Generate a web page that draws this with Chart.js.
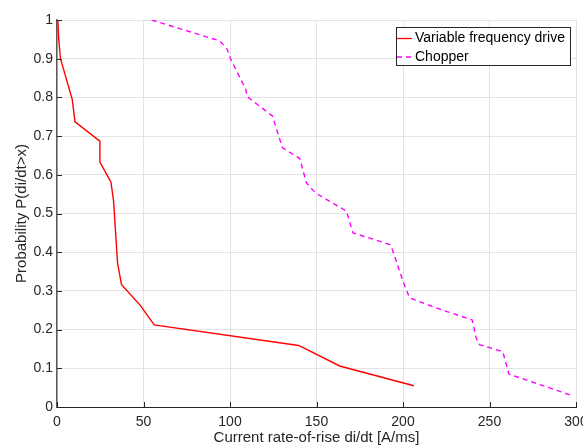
<!DOCTYPE html>
<html>
<head>
<meta charset="utf-8">
<script src="https://cdn.jsdelivr.net/npm/chart.js@4.4.1/dist/chart.umd.min.js"></script>
<style>
  html, body { margin: 0; padding: 0; background: #fff; }
  #wrap { width: 583px; height: 446px; position: relative; }
</style>
</head>
<body>
<div id="wrap"><canvas id="chart"></canvas></div>
<script>
/* datos: di/dt [A/ms] y probabilidad */
const vfdX = [0.5, 1, 2, 8.8, 10.4, 24.8, 24.8, 31.2, 32.7, 35, 37.3, 47.9, 56.2, 139.7, 163.4, 206.3];
const vfdY = [1, 0.95, 0.9, 0.795, 0.737, 0.687, 0.633, 0.581, 0.532, 0.372, 0.316, 0.264, 0.212, 0.159, 0.106, 0.055];

const chopX = [54.7, 94.1, 98.3, 100.3, 109.1, 109.9, 124.5, 130.3, 140.3, 144.2, 149.5, 167.3, 171.1, 192.3, 193.8, 200, 203.8, 219.2, 240, 242.3, 244.2, 257.7, 261.2, 298.1];
const chopY = [1, 0.946, 0.925, 0.9, 0.821, 0.802, 0.752, 0.67, 0.642, 0.579, 0.553, 0.506, 0.45, 0.42, 0.407, 0.325, 0.282, 0.256, 0.225, 0.178, 0.161, 0.143, 0.085, 0.029];

const seriesNames = ["Variable frequency drive", "Chopper"];
const xTitle = "Current rate-of-rise di/dt [A/ms]";
const yTitle = "Probability P(di/dt>x)";

const toPoints = (xs, ys) => xs.map((x, i) => ({ x: x, y: ys[i] }));

const FONT = "'Liberation Sans', Arial, sans-serif";
const TXT = "#262626";

/* marcas de tick hacia dentro, estilo MATLAB */
const innerTicks = {
    id: "innerTicks",
    afterDatasetsDraw(chart) {
        const { ctx, chartArea: a, scales } = chart;
        ctx.save();
        ctx.strokeStyle = "#262626";
        ctx.lineWidth = 1;
        scales.x.ticks.forEach(t => {
            const px = Math.round(scales.x.getPixelForValue(t.value)) + 0.5;
            ctx.beginPath();
            ctx.moveTo(px, a.bottom);
            ctx.lineTo(px, a.bottom - 5);
            ctx.stroke();
        });
        scales.y.ticks.forEach(t => {
            const py = Math.round(scales.y.getPixelForValue(t.value)) + 0.5;
            ctx.beginPath();
            ctx.moveTo(a.left, py);
            ctx.lineTo(a.left + 5, py);
            ctx.stroke();
        });
        ctx.restore();
    }
};

/* leyenda dentro del área de trazado, arriba a la derecha */
const legendBox = {
    id: "legendBox",
    afterDraw(chart) {
        const ctx = chart.ctx;
        const x0 = 396, y0 = 27, w = 174, h = 38;
        ctx.save();
        ctx.fillStyle = "#fff";
        ctx.fillRect(x0, y0, w, h);
        ctx.strokeStyle = "#262626";
        ctx.lineWidth = 1;
        ctx.strokeRect(x0 + 0.5, y0 + 0.5, w, h);
        ctx.font = "14px " + FONT;
        ctx.textBaseline = "middle";
        chart.data.datasets.forEach((ds, i) => {
            const yy = y0 + 11.5 + i * 18.5;
            ctx.strokeStyle = ds.borderColor;
            ctx.lineWidth = 1.3;
            ctx.setLineDash(ds.borderDash || []);
            ctx.beginPath();
            ctx.moveTo(x0 + 1, yy);
            ctx.lineTo(x0 + 16, yy);
            ctx.stroke();
            ctx.setLineDash([]);
            ctx.fillStyle = "#000";
            ctx.fillText(ds.label, x0 + 19, yy);
        });
        ctx.restore();
    }
};

new Chart(document.getElementById("chart"), {
    type: "scatter",
    data: {
        datasets: [{
            label: seriesNames[0],
            data: toPoints(vfdX, vfdY),
            showLine: true,
            borderColor: "#ff0000",
            borderWidth: 1.4,
            pointRadius: 0,
            tension: 0
        }, {
            label: seriesNames[1],
            data: toPoints(chopX, chopY),
            showLine: true,
            borderColor: "#ff00ff",
            borderWidth: 1.4,
            borderDash: [5, 4],
            pointRadius: 0,
            tension: 0
        }]
    },
    options: {
        responsive: true,
        maintainAspectRatio: false,
        animation: false,
        devicePixelRatio: 1,
        layout: { padding: { left: 0, right: 7, top: 20, bottom: 0 } },
        plugins: {
            legend: { display: false },
            tooltip: { enabled: false }
        },
        scales: {
            x: {
                type: "linear",
                min: 0, max: 300,
                ticks: { stepSize: 50, color: TXT, font: { family: FONT, size: 14 }, padding: 7, maxRotation: 0 },
                grid: { color: "#e3e3e3", drawTicks: false },
                border: { color: "#262626", width: 1 },
                title: { display: true, text: xTitle, color: TXT, font: { family: FONT, size: 15 }, padding: { top: 0, bottom: -1 } },
                afterFit: (s) => { s.height = 39; s.paddingLeft = 0; s.paddingRight = 0; }
            },
            y: {
                type: "linear",
                min: 0, max: 1,
                ticks: {
                    stepSize: 0.1, color: TXT, font: { family: FONT, size: 14 }, padding: 4,
                    callback: (v) => String(Math.round(v * 10) / 10)
                },
                grid: { color: "#e3e3e3", drawTicks: false },
                border: { color: "#5a5a5a", width: 1.5 },
                title: { display: true, text: yTitle, color: TXT, font: { family: FONT, size: 15 }, padding: { top: 13, bottom: 0 } },
                afterFit: (s) => { s.width = 57; s.paddingTop = 0; s.paddingBottom = 0; }
            }
        }
    },
    plugins: [innerTicks, legendBox]
});
</script>
</body>
</html>
